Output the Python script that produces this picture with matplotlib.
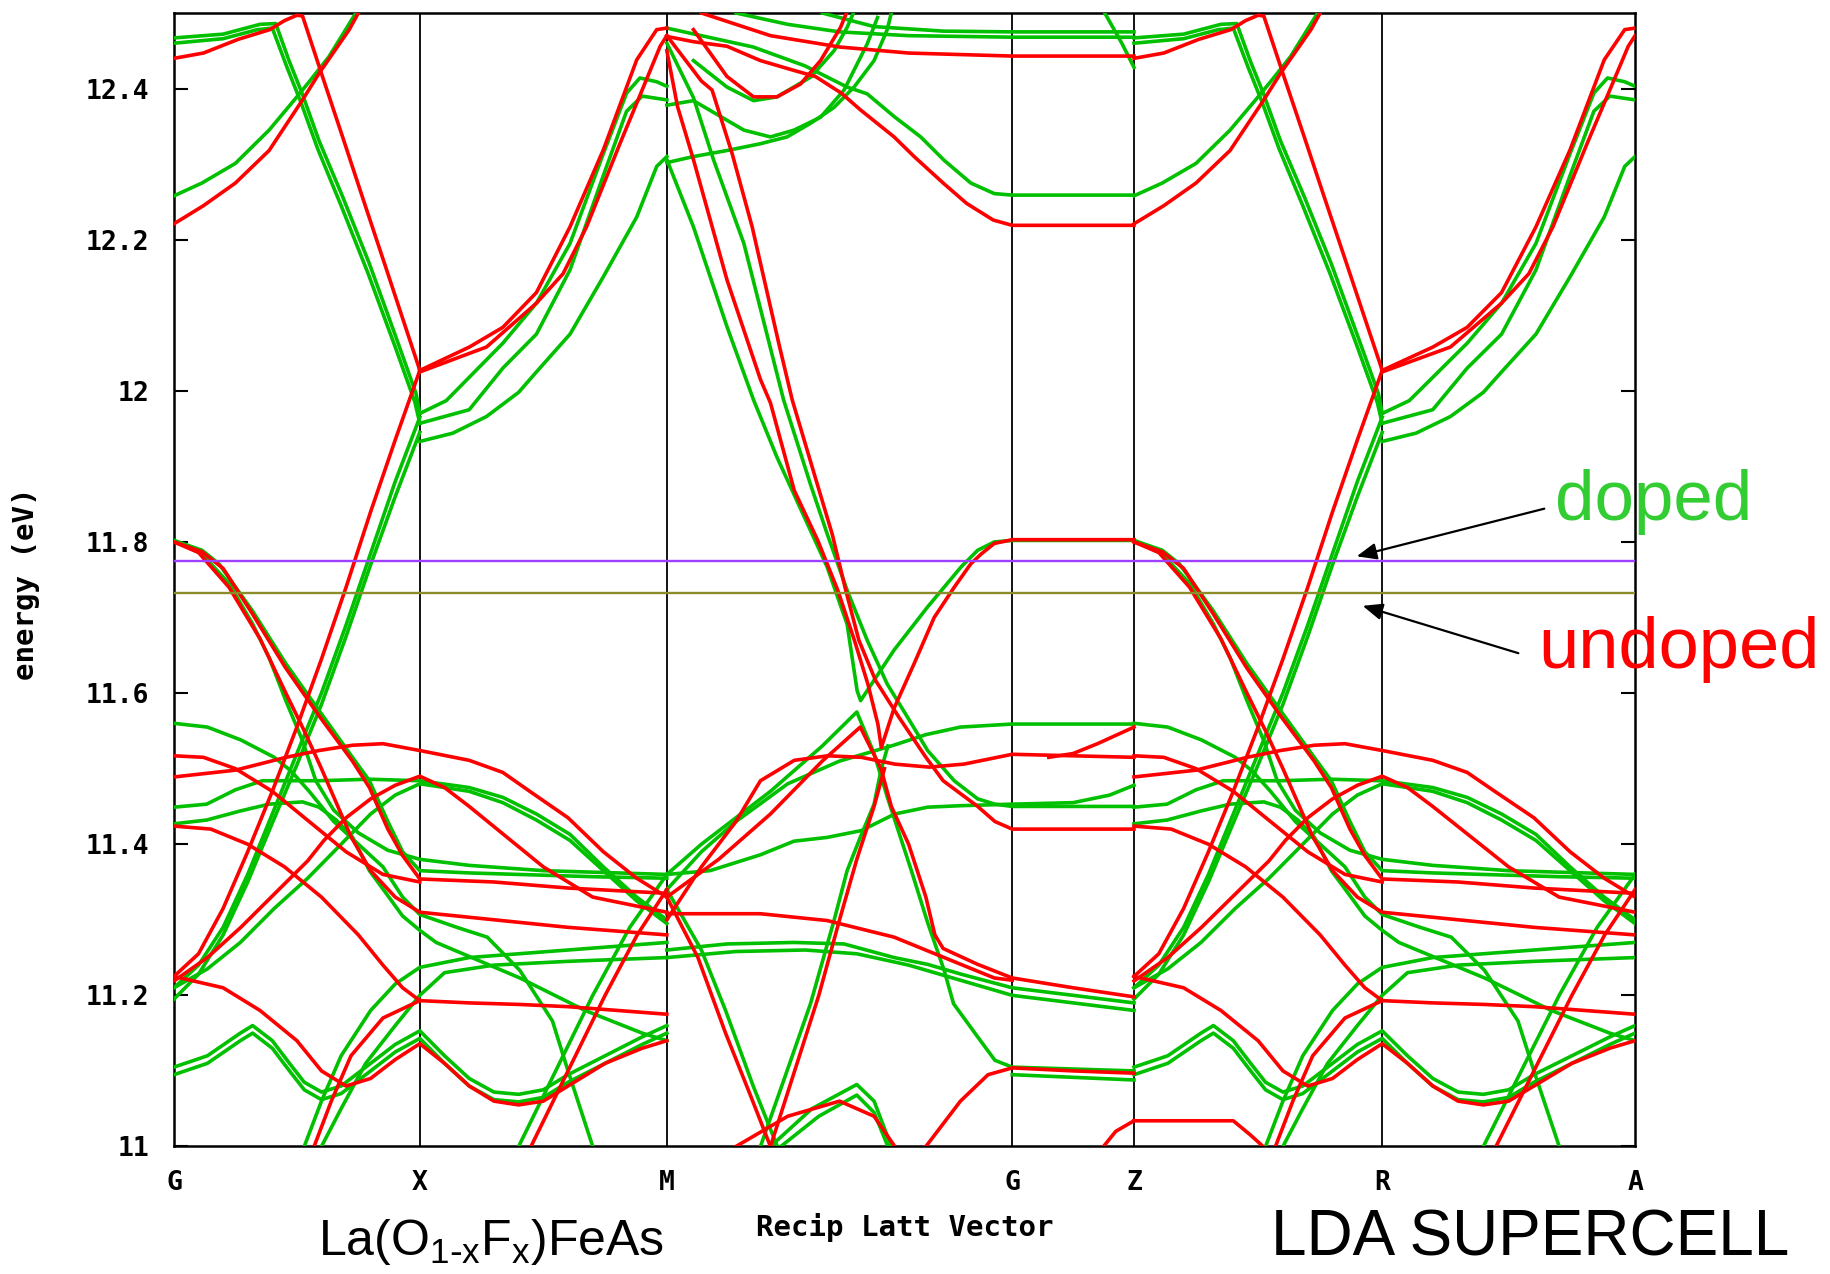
import matplotlib
matplotlib.use("Agg")
import matplotlib.pyplot as plt
import numpy as np

# k-path: tick positions (path length units) and labels
kpos = [0.0, 2.10, 4.21, 7.16, 8.20, 10.32, 12.48]
klabels = ["G", "X", "M", "G", "Z", "R", "A"]
yticks = [11.0, 11.2, 11.4, 11.6, 11.8, 12.0, 12.2, 12.4]
ytick_labels = ["11", "11.2", "11.4", "11.6", "11.8", "12", "12.2", "12.4"]
e_fermi_doped = 11.775
e_fermi_undoped = 11.733

# in-plane bands (t: 0 = G/Z, 1 = X/R, 2 = M/A); the same shape is seen on G-X-M and Z-R-A
red_plane = [
    [(0, 12.44), (0.12, 12.447), (0.26, 12.465), (0.39, 12.478), (0.45, 12.49), (0.50, 12.497),
     (0.523, 12.496), (0.604, 12.416), (0.686, 12.336), (0.768, 12.255), (0.863, 12.162),
     (0.93, 12.096), (0.985, 12.042), (1.0, 12.027)],
    [(0, 12.221), (0.12, 12.245), (0.25, 12.275), (0.387, 12.318), (0.523, 12.385), (0.59, 12.42),
     (0.713, 12.478), (0.75, 12.5)],
    [(1, 12.027), (1.201, 12.058), (1.336, 12.084), (1.472, 12.13), (1.608, 12.217), (1.743, 12.319),
     (1.878, 12.438), (1.959, 12.478), (2.0, 12.48)],
    [(1, 12.025), (1.27, 12.058), (1.472, 12.116), (1.58, 12.155), (1.675, 12.217), (1.81, 12.327),
     (1.905, 12.402), (1.973, 12.456), (2.0, 12.47)],
    [(0, 11.225), (0.1, 11.255), (0.2, 11.315), (0.3, 11.39), (0.4, 11.47), (0.5, 11.555), (0.6, 11.645),
     (0.7, 11.74), (0.8, 11.84), (0.9, 11.935), (1.0, 12.027)],
    [(0, 11.80), (0.114, 11.787), (0.2, 11.765), (0.319, 11.705), (0.455, 11.633), (0.59, 11.57),
     (0.726, 11.51), (0.795, 11.475), (0.87, 11.42), (0.93, 11.385), (1.0, 11.354), (1.3, 11.35),
     (1.6, 11.342), (2.0, 11.335)],
    [(0, 11.80), (0.1, 11.786), (0.224, 11.74), (0.35, 11.672), (0.455, 11.6), (0.53, 11.55),
     (0.6, 11.50), (0.66, 11.455), (0.72, 11.41), (0.8, 11.365), (0.9, 11.33), (1.0, 11.31),
     (1.3, 11.30), (1.6, 11.29), (2.0, 11.28)],
    [(0, 11.489), (0.25, 11.498), (0.456, 11.515), (0.59, 11.524), (0.727, 11.531), (0.85, 11.533),
     (1.0, 11.524), (1.2, 11.511), (1.336, 11.495), (1.445, 11.47), (1.6, 11.435), (1.743, 11.39),
     (1.878, 11.355), (2.0, 11.33)],
    [(0, 11.517), (0.12, 11.515), (0.25, 11.50), (0.4, 11.47), (0.55, 11.43), (0.7, 11.39),
     (0.85, 11.36), (1.0, 11.35)],
    [(0, 11.219), (0.136, 11.25), (0.272, 11.29), (0.408, 11.334), (0.544, 11.378), (0.61, 11.405),
     (0.7, 11.435), (0.8, 11.46), (0.9, 11.478), (1.0, 11.49), (1.1, 11.475), (1.2, 11.45),
     (1.35, 11.41), (1.5, 11.37), (1.7, 11.33), (2.0, 11.31)],
    [(0, 11.424), (0.15, 11.42), (0.3, 11.40), (0.45, 11.37), (0.6, 11.33), (0.75, 11.28),
     (0.85, 11.24), (0.93, 11.21), (1.0, 11.193), (1.2, 11.19), (1.4, 11.188), (1.6, 11.185),
     (1.8, 11.18), (2.0, 11.175)],
    [(0, 11.225), (0.2, 11.21), (0.35, 11.18), (0.5, 11.14), (0.6, 11.10), (0.7, 11.08), (0.8, 11.09),
     (0.9, 11.115), (1.0, 11.136), (1.1, 11.11), (1.2, 11.08), (1.3, 11.06), (1.4, 11.055),
     (1.5, 11.06), (1.6, 11.08), (1.75, 11.11), (1.9, 11.13), (2.0, 11.14)],
    [(0.57, 11.0), (0.64, 11.06), (0.72, 11.12), (0.85, 11.17), (1.0, 11.193)],
    [(1.45, 11.0), (1.6, 11.1), (1.75, 11.2), (1.88, 11.28), (2.0, 11.34)],
]

green_plane = [
    [(0, 12.467), (0.2, 12.472), (0.35, 12.485), (0.414, 12.486), (0.468, 12.437), (0.522, 12.393),
     (0.59, 12.331), (0.686, 12.257), (0.794, 12.169), (0.903, 12.071), (0.985, 11.996), (1.0, 11.97)],
    [(0, 12.46), (0.2, 12.466), (0.34, 12.478), (0.40, 12.48), (0.46, 12.428), (0.515, 12.383),
     (0.585, 12.32), (0.68, 12.245), (0.79, 12.155), (0.9, 12.058), (0.98, 11.985), (1.0, 11.957)],
    [(0, 12.258), (0.114, 12.275), (0.25, 12.301), (0.387, 12.345), (0.495, 12.387), (0.55, 12.409),
     (0.63, 12.442), (0.74, 12.5)],
    [(1, 11.97), (1.107, 11.987), (1.336, 12.063), (1.472, 12.116), (1.608, 12.195), (1.743, 12.314),
     (1.837, 12.394), (1.891, 12.414), (1.959, 12.409), (2.0, 12.403)],
    [(1, 11.957), (1.2, 11.975), (1.336, 12.03), (1.472, 12.075), (1.608, 12.16), (1.743, 12.285),
     (1.837, 12.37), (1.9, 12.39), (2.0, 12.385)],
    [(1, 11.933), (1.134, 11.944), (1.27, 11.966), (1.4, 11.998), (1.472, 12.025), (1.608, 12.075),
     (1.743, 12.151), (1.878, 12.23), (1.959, 12.297), (2.0, 12.31)],
    [(0, 11.21), (0.1, 11.24), (0.2, 11.29), (0.3, 11.36), (0.4, 11.44), (0.5, 11.52), (0.6, 11.60),
     (0.7, 11.69), (0.8, 11.785), (0.9, 11.88), (1.0, 11.965)],
    [(0, 11.195), (0.1, 11.228), (0.2, 11.28), (0.3, 11.35), (0.4, 11.428), (0.5, 11.505),
     (0.6, 11.585), (0.7, 11.675), (0.8, 11.77), (0.9, 11.86), (1.0, 11.945)],
    [(0, 11.802), (0.114, 11.784), (0.224, 11.745), (0.319, 11.692), (0.387, 11.647), (0.455, 11.59),
     (0.523, 11.537), (0.577, 11.484), (0.65, 11.445), (0.75, 11.415), (0.87, 11.392), (1.0, 11.38),
     (1.2, 11.372), (1.5, 11.365), (1.8, 11.362), (2.0, 11.36)],
    [(0, 11.802), (0.114, 11.789), (0.183, 11.771), (0.319, 11.709), (0.455, 11.639), (0.59, 11.577),
     (0.726, 11.515), (0.795, 11.484), (0.87, 11.43), (0.93, 11.39), (1.0, 11.365), (1.2, 11.362),
     (1.4, 11.36), (1.7, 11.357), (2.0, 11.355)],
    [(0, 11.449), (0.133, 11.453), (0.25, 11.472), (0.36, 11.484), (0.59, 11.484), (0.795, 11.486),
     (1.0, 11.484), (1.2, 11.475), (1.336, 11.462), (1.472, 11.44), (1.608, 11.413), (1.743, 11.37),
     (1.878, 11.33), (2.0, 11.30)],
    [(0, 11.21), (0.136, 11.235), (0.27, 11.27), (0.408, 11.315), (0.544, 11.355), (0.68, 11.40),
     (0.8, 11.44), (0.9, 11.465), (1.0, 11.48), (1.2, 11.47), (1.336, 11.455), (1.472, 11.432),
     (1.608, 11.405), (1.743, 11.365), (1.878, 11.325), (2.0, 11.295)],
    [(0, 11.56), (0.136, 11.555), (0.272, 11.538), (0.408, 11.515), (0.476, 11.497), (0.55, 11.47),
     (0.65, 11.43), (0.75, 11.40), (0.85, 11.37), (0.93, 11.33), (1.0, 11.307), (1.15, 11.29),
     (1.273, 11.277), (1.405, 11.233), (1.537, 11.166), (1.6, 11.10), (1.65, 11.05), (1.7, 11.0)],
    [(0, 11.427), (0.133, 11.432), (0.27, 11.444), (0.387, 11.453), (0.523, 11.456), (0.59, 11.449),
     (0.66, 11.432), (0.727, 11.409), (0.795, 11.365), (0.863, 11.335), (0.93, 11.305), (1.0, 11.286),
     (1.066, 11.27), (1.405, 11.223), (1.669, 11.18), (1.9, 11.15), (2.0, 11.14)],
    [(0, 11.105), (0.136, 11.12), (0.27, 11.15), (0.32, 11.16), (0.4, 11.14), (0.47, 11.11),
     (0.53, 11.085), (0.6, 11.072), (0.68, 11.08), (0.8, 11.11), (0.9, 11.135), (1.0, 11.153),
     (1.1, 11.12), (1.2, 11.09), (1.3, 11.072), (1.4, 11.069), (1.5, 11.075), (1.6, 11.095),
     (1.75, 11.12), (1.9, 11.145), (2.0, 11.16)],
    [(0, 11.095), (0.136, 11.11), (0.27, 11.14), (0.32, 11.15), (0.4, 11.13), (0.47, 11.10),
     (0.53, 11.075), (0.6, 11.062), (0.68, 11.07), (0.8, 11.10), (0.9, 11.125), (1.0, 11.143),
     (1.1, 11.11), (1.2, 11.08), (1.3, 11.062), (1.4, 11.059), (1.5, 11.065), (1.6, 11.085),
     (1.75, 11.11), (1.9, 11.135), (2.0, 11.15)],
    [(0.53, 11.0), (0.6, 11.06), (0.68, 11.12), (0.8, 11.18), (0.9, 11.215), (1.0, 11.237),
     (1.2, 11.25), (1.4, 11.255), (1.6, 11.26), (1.8, 11.265), (2.0, 11.27)],
    [(0.6, 11.0), (0.68, 11.05), (0.78, 11.11), (0.9, 11.16), (1.0, 11.2), (1.1, 11.23),
     (1.3, 11.24), (1.6, 11.245), (2.0, 11.25)],
    [(1.4, 11.0), (1.55, 11.1), (1.7, 11.2), (1.85, 11.29), (2.0, 11.36)],
]

# M -> G -> Z bands (t: 2 = M, 3 = G, 4 = Z)
red_mgz = [
    [(2.0, 12.469), (2.077, 12.462), (2.174, 12.456), (2.271, 12.437), (2.368, 12.424), (2.43, 12.416),
     (2.505, 12.394), (2.56, 12.372), (2.658, 12.336), (2.716, 12.31), (2.8, 12.275), (2.868, 12.248),
     (2.945, 12.226), (3.0, 12.219), (4.0, 12.219)],
    [(2.1, 12.5), (2.3, 12.47), (2.5, 12.455), (2.7, 12.447), (3.0, 12.443), (4.0, 12.443)],
    [(2.077, 12.478), (2.174, 12.416), (2.251, 12.389), (2.319, 12.389), (2.387, 12.406),
     (2.445, 12.437), (2.503, 12.481), (2.52, 12.5)],
    [(2.0, 12.45), (2.031, 12.376), (2.077, 12.306), (2.174, 12.147), (2.271, 12.015), (2.3, 11.984),
     (2.369, 11.868), (2.437, 11.802), (2.495, 11.736), (2.543, 11.67), (2.582, 11.612),
     (2.611, 11.559), (2.621, 11.528), (2.658, 11.58), (2.716, 11.639), (2.774, 11.70),
     (2.832, 11.74), (2.88, 11.771), (2.91, 11.784), (2.948, 11.798), (3.0, 11.803), (4.0, 11.803)],
    [(2.0, 12.47), (2.1, 12.41), (2.131, 12.398), (2.189, 12.314), (2.247, 12.217), (2.324, 12.063),
     (2.363, 11.988), (2.43, 11.885), (2.479, 11.81), (2.518, 11.736), (2.556, 11.67),
     (2.604, 11.617), (2.672, 11.568), (2.75, 11.515), (2.8, 11.484), (2.9, 11.45), (2.95, 11.43),
     (3.0, 11.42), (4.0, 11.42)],
    [(2.0, 11.33), (2.15, 11.38), (2.3, 11.44), (2.45, 11.51), (2.56, 11.555), (2.62, 11.50),
     (2.65, 11.45), (2.7, 11.40), (2.75, 11.33), (2.776, 11.28), (2.8, 11.262), (2.9, 11.241),
     (3.0, 11.223), (3.5, 11.21), (4.0, 11.198)],
    [(2.0, 11.30), (2.1, 11.37), (2.2, 11.43), (2.271, 11.484), (2.369, 11.511), (2.466, 11.517),
     (2.563, 11.515), (2.66, 11.506), (2.76, 11.502), (2.86, 11.506), (3.0, 11.519), (4.0, 11.515)],
    [(3.3, 11.515), (3.5, 11.52), (3.7, 11.533), (4.0, 11.555)],
    [(2.0, 11.308), (2.271, 11.308), (2.464, 11.299), (2.658, 11.277), (2.803, 11.25),
     (2.948, 11.223), (3.0, 11.22)],
    [(2.3, 11.0), (2.37, 11.1), (2.44, 11.2), (2.5, 11.3), (2.55, 11.38), (2.6, 11.45), (2.63, 11.5)],
    [(2.0, 11.33), (2.09, 11.25), (2.17, 11.15), (2.24, 11.07), (2.3, 11.0)],
    [(2.2, 11.0), (2.35, 11.04), (2.5, 11.06), (2.6, 11.04), (2.66, 11.0)],
    [(2.75, 11.0), (2.85, 11.06), (2.93, 11.095), (3.0, 11.104), (3.5, 11.10), (4.0, 11.097)],
    [(3.75, 11.0), (3.85, 11.02), (4.0, 11.034)],
]

green_mgz = [
    [(2.0, 12.48), (2.1, 12.47), (2.25, 12.455), (2.4, 12.43), (2.522, 12.402), (2.58, 12.393),
     (2.658, 12.363), (2.735, 12.336), (2.803, 12.305), (2.88, 12.275), (2.948, 12.261),
     (3.0, 12.259), (4.0, 12.259)],
    [(2.2, 12.5), (2.35, 12.485), (2.5, 12.475), (2.7, 12.47), (3.0, 12.468), (4.0, 12.468)],
    [(2.45, 12.5), (2.6, 12.482), (2.8, 12.476), (3.0, 12.475), (4.0, 12.475)],
    [(2.0, 12.302), (2.077, 12.31), (2.174, 12.318), (2.271, 12.327), (2.348, 12.336), (2.416, 12.354),
     (2.484, 12.375), (2.542, 12.402), (2.6, 12.437), (2.638, 12.478), (2.65, 12.5)],
    [(2.0, 12.378), (2.077, 12.384), (2.223, 12.345), (2.3, 12.336), (2.368, 12.345), (2.445, 12.362),
     (2.513, 12.398), (2.58, 12.459), (2.61, 12.494)],
    [(2.077, 12.437), (2.174, 12.402), (2.251, 12.384), (2.319, 12.389), (2.416, 12.415),
     (2.484, 12.45), (2.522, 12.481), (2.54, 12.5)],
    [(2.0, 12.306), (2.077, 12.217), (2.174, 12.085), (2.251, 11.988), (2.319, 11.912),
     (2.416, 11.815), (2.464, 11.767), (2.522, 11.691), (2.551, 11.603), (2.561, 11.59),
     (2.6, 11.617), (2.658, 11.657), (2.755, 11.714), (2.852, 11.767), (2.9, 11.789),
     (2.948, 11.80), (3.0, 11.802), (4.0, 11.802)],
    [(2.0, 12.46), (2.077, 12.388), (2.135, 12.306), (2.223, 12.195), (2.338, 11.988),
     (2.416, 11.876), (2.464, 11.811), (2.522, 11.736), (2.58, 11.67), (2.638, 11.612),
     (2.697, 11.568), (2.755, 11.524), (2.832, 11.484), (2.9, 11.46), (2.95, 11.453), (3.0, 11.45),
     (4.0, 11.45)],
    [(2.0, 11.36), (2.125, 11.365), (2.271, 11.386), (2.368, 11.404), (2.464, 11.409), (2.563, 11.418),
     (2.66, 11.44), (2.755, 11.449), (2.852, 11.451), (3.0, 11.453), (3.5, 11.455), (3.8, 11.465),
     (4.0, 11.478)],
    [(2.0, 11.36), (2.1, 11.40), (2.3, 11.47), (2.45, 11.53), (2.55, 11.575), (2.6, 11.52),
     (2.64, 11.46), (2.708, 11.365), (2.756, 11.295), (2.803, 11.233), (2.83, 11.189), (2.9, 11.145),
     (2.95, 11.114), (3.0, 11.105), (4.0, 11.10)],
    [(2.0, 11.34), (2.1, 11.39), (2.2, 11.43), (2.35, 11.48), (2.5, 11.51), (2.65, 11.53),
     (2.75, 11.545), (2.85, 11.555), (3.0, 11.559), (4.0, 11.559)],
    [(2.0, 11.26), (2.174, 11.268), (2.368, 11.27), (2.513, 11.268), (2.658, 11.25), (2.755, 11.241),
     (2.852, 11.228), (3.0, 11.21), (3.5, 11.20), (4.0, 11.19)],
    [(2.0, 11.25), (2.2, 11.258), (2.4, 11.26), (2.55, 11.255), (2.7, 11.24), (2.85, 11.22),
     (3.0, 11.20), (3.5, 11.19), (4.0, 11.18)],
    [(2.271, 11.0), (2.348, 11.1), (2.416, 11.189), (2.484, 11.299), (2.522, 11.365), (2.56, 11.409),
     (2.6, 11.453), (2.62, 11.498), (2.64, 11.53)],
    [(2.3, 11.0), (2.42, 11.05), (2.55, 11.082), (2.6, 11.06), (2.65, 11.0)],
    [(2.33, 11.0), (2.44, 11.04), (2.55, 11.068), (2.6, 11.045), (2.64, 11.0)],
    [(2.0, 11.34), (2.1, 11.26), (2.17, 11.18), (2.25, 11.08), (2.32, 11.0)],
    [(3.0, 11.095), (4.0, 11.088)],
    [(3.76, 12.5), (3.9, 12.46), (4.0, 12.428)],
]

# bits seen only along Z-R (t: 0 = Z, 1 = R)
red_zr = [
    [(0, 11.034), (0.2, 11.034), (0.4, 11.034), (0.47, 11.015), (0.52, 11.0)],
]

RED = "#ff0000"
GREEN = "#00c000"
LW = 2.6


def draw(ax, bands, knots, positions, color):
    for band in bands:
        t, e = np.array(band).T
        ax.plot(np.interp(t, knots, positions), e, color=color, lw=LW,
                solid_joinstyle="round", zorder=3)


fig = plt.figure(figsize=(18.31, 12.74), dpi=100)
ax = fig.add_axes([0.095, 0.1001, 0.798, 0.8897])

for color, plane, mgz in [(GREEN, green_plane, green_mgz), (RED, red_plane, red_mgz)]:
    draw(ax, plane, [0, 1, 2], kpos[0:3], color)
    draw(ax, plane, [0, 1, 2], kpos[4:7], color)
    draw(ax, mgz, [2, 3, 4], kpos[2:5], color)
draw(ax, red_zr, [0, 1], kpos[4:6], RED)

ax.axhline(e_fermi_doped, color="#a040ff", lw=1.7, zorder=4)
ax.axhline(e_fermi_undoped, color="#8c8c2a", lw=1.7, zorder=4)
for k in kpos[1:-1]:
    ax.axvline(k, color="black", lw=1.3, zorder=2)

ax.set_xlim(kpos[0], kpos[-1])
ax.set_ylim(11.0, 12.5)
ax.set_xticks(kpos)
ax.set_xticklabels(klabels)
ax.set_yticks(yticks)
ax.set_yticklabels(ytick_labels)
mono = {"family": "DejaVu Sans Mono", "weight": "bold", "size": 19}
for lab in ax.get_xticklabels() + ax.get_yticklabels():
    lab.set_fontproperties(mono)
ax.tick_params(axis="y", direction="in", length=10, width=1.5, right=True, pad=18)
ax.tick_params(axis="x", length=0, pad=17)
for s in ax.spines.values():
    s.set_linewidth(1.8)

ax.set_xlabel("Recip Latt Vector", fontdict={**mono, "size": 21}, labelpad=12)
fig.text(0.014, 0.542, "energy (eV)", rotation=90, ha="center", va="center",
         family="DejaVu Sans Mono", weight="bold", size=21)

fig.text(0.268, 0.025, r"La(O$_{\mathregular{1\text{-}x}}$F$_{\mathregular{x}}$)FeAs",
         ha="center", va="center", family="Liberation Sans", size=36)
fig.text(0.8355, 0.028, "LDA SUPERCELL", ha="center", va="center",
         family="Liberation Sans", size=46)

fig.text(0.903, 0.606, "doped", color="#33cc33", ha="center", va="center",
         family="Liberation Sans", size=51)
fig.text(0.917, 0.49, "undoped", color="#ff0000", ha="center", va="center",
         family="Liberation Sans", size=52)
arrow = dict(arrowstyle="-|>,head_length=1.2,head_width=0.5", color="black", lw=1.6)
ax.annotate("", xy=(1354 / 1831, 1 - 557 / 1274), xycoords="figure fraction",
            xytext=(1547 / 1831, 1 - 508 / 1274), textcoords="figure fraction", arrowprops=arrow)
ax.annotate("", xy=(1360 / 1831, 1 - 605 / 1274), xycoords="figure fraction",
            xytext=(1521 / 1831, 1 - 654 / 1274), textcoords="figure fraction", arrowprops=arrow)

fig.savefig("out.png", dpi=100, facecolor="white")
